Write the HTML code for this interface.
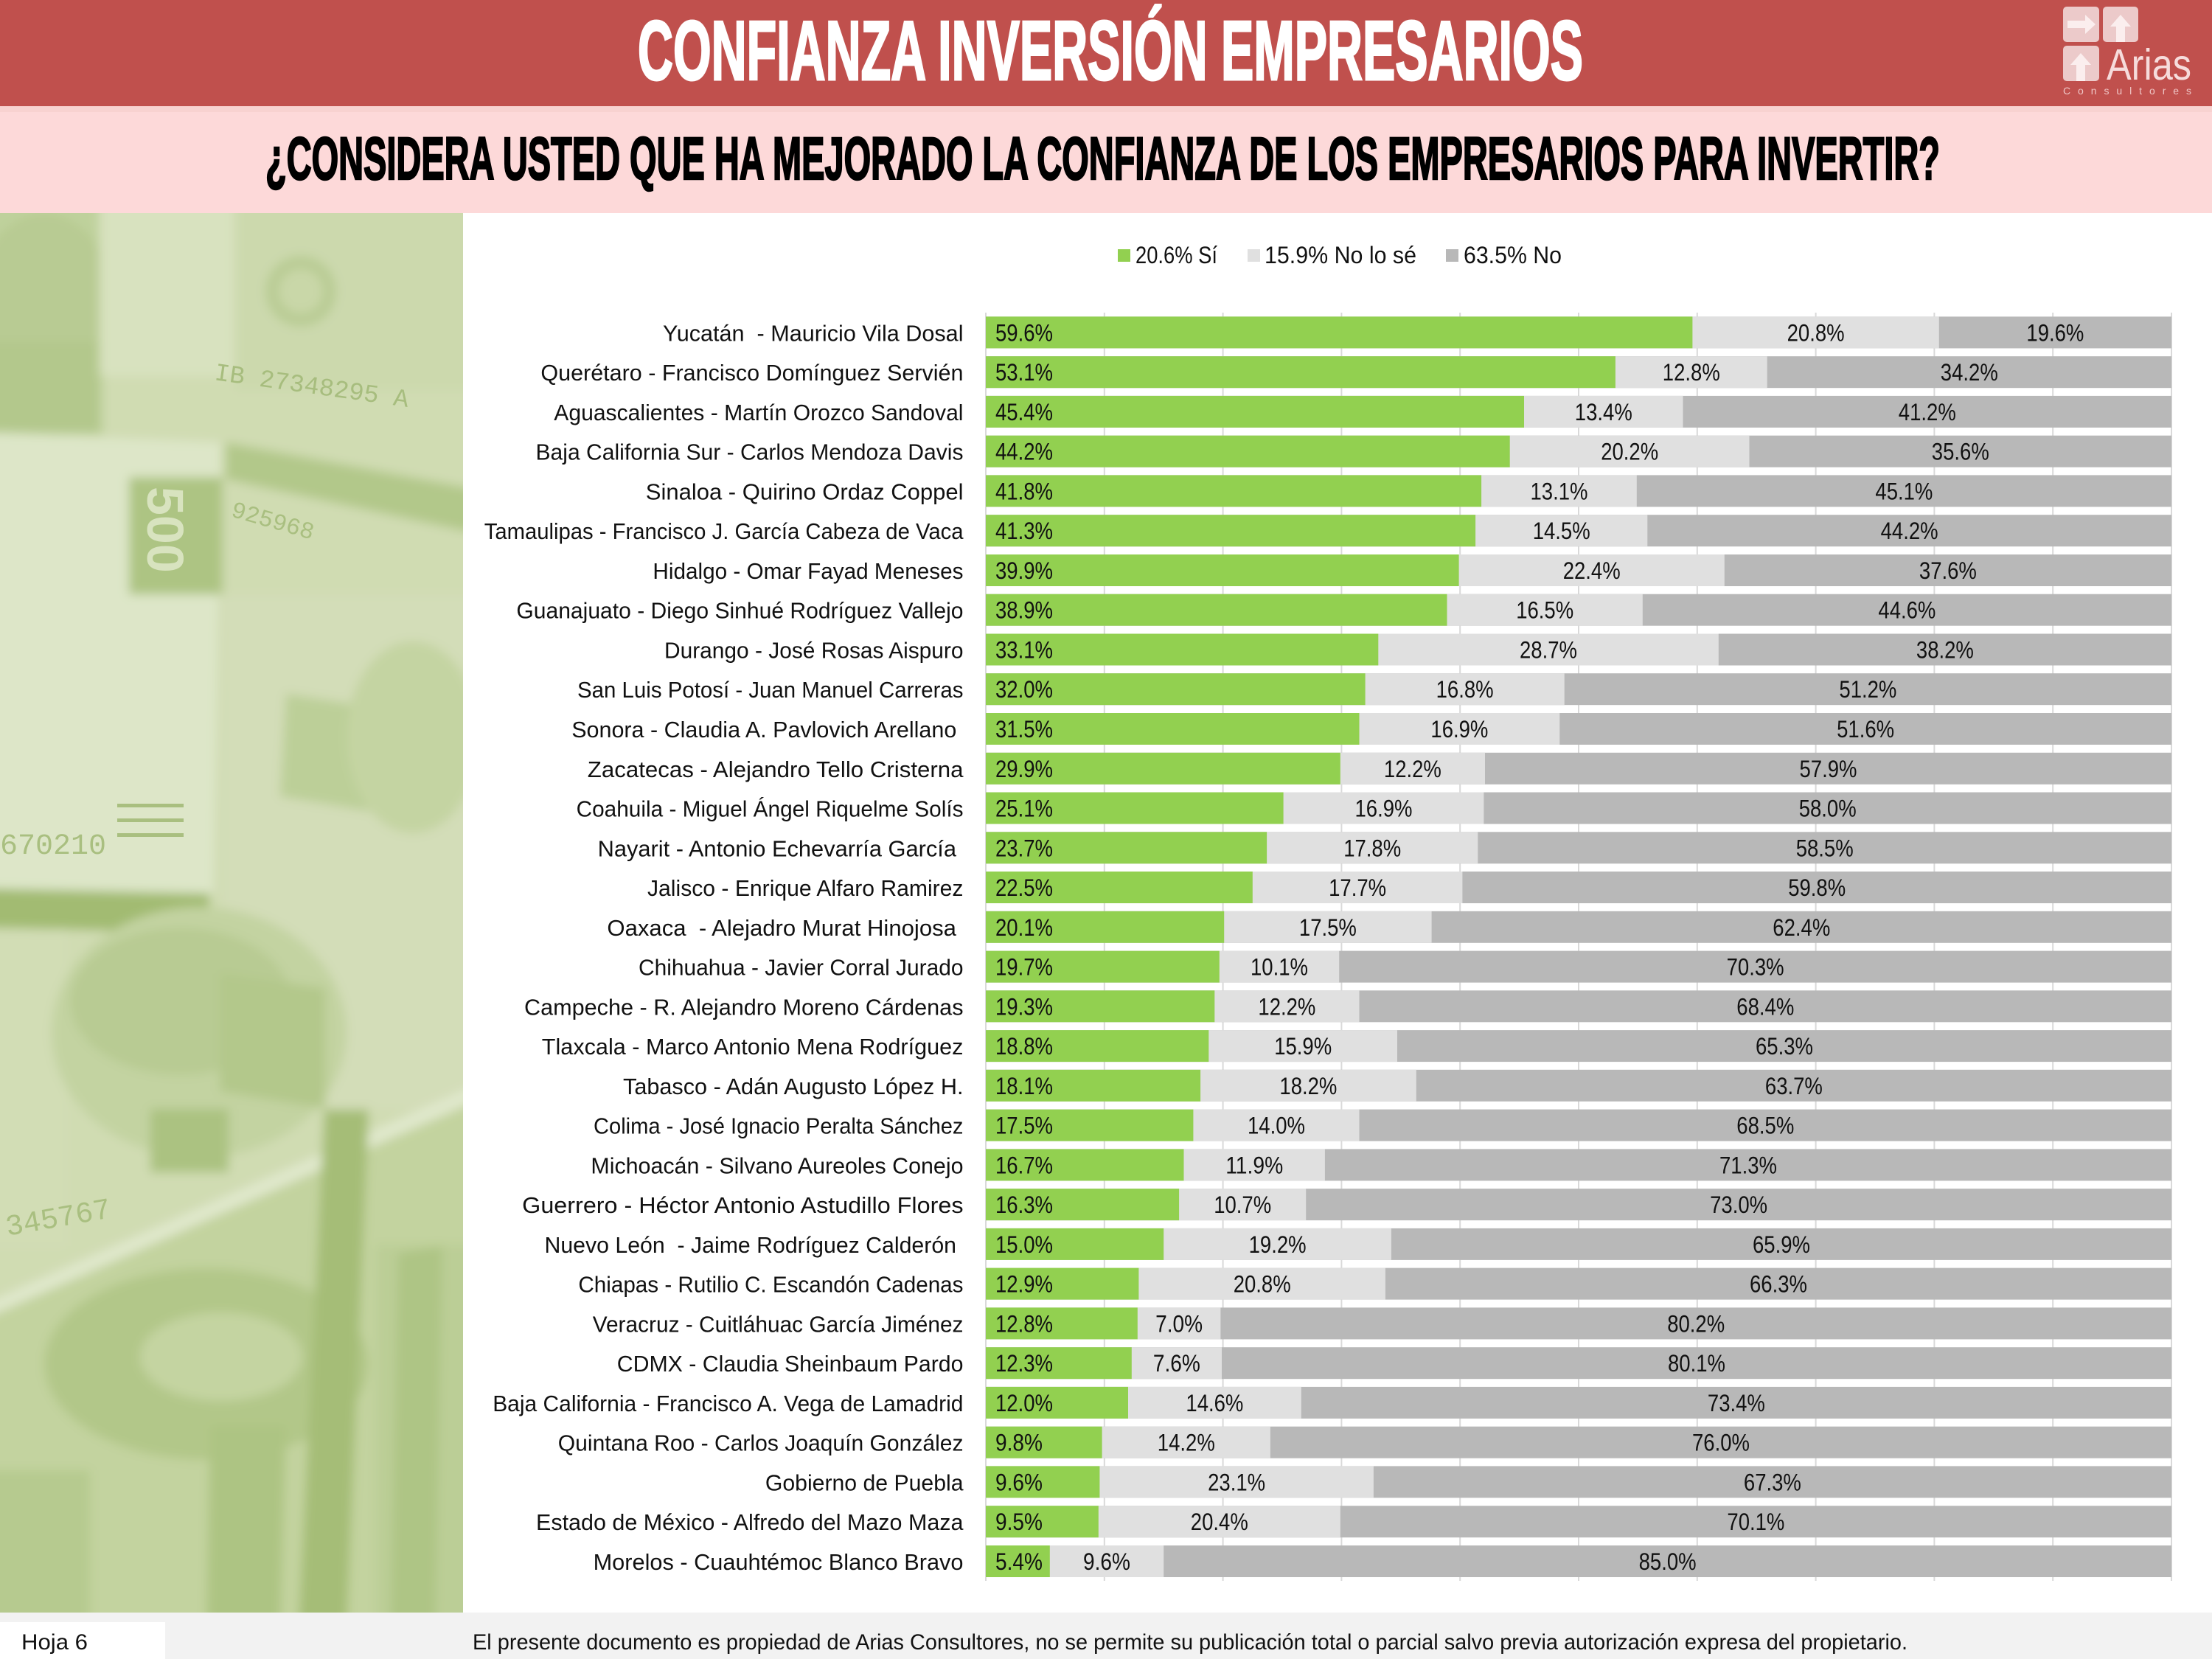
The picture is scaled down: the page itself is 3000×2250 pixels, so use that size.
<!DOCTYPE html>
<html><head><meta charset="utf-8"><style>
html,body{margin:0;padding:0;background:#fff;overflow:hidden}
svg{display:block}
.c text{font-family:"Liberation Sans",sans-serif;font-size:31px;fill:#111}
.v text{font-family:"Liberation Sans",sans-serif;font-size:32px;fill:#111}
.lab{white-space:pre}
</style></head><body>
<svg xmlns="http://www.w3.org/2000/svg" width="3000" height="2250" viewBox="0 0 3000 2250">
<defs><clipPath id="ic"><rect x="0" y="289" width="628" height="1898"/></clipPath>
<filter id="bl" x="-5%" y="-5%" width="110%" height="110%"><feGaussianBlur stdDeviation="7"/></filter></defs>
<!-- header -->
<rect x="0" y="0" width="3000" height="144" fill="#c0504d"/>
<rect x="0" y="144" width="3000" height="145" fill="#fdd9d9"/>
<rect x="0" y="144" width="3000" height="8" fill="#f8d2d0"/>
<text x="865" y="108" font-family="Liberation Sans,sans-serif" font-weight="bold" font-size="114" fill="#fff" stroke="#fff" stroke-width="3" textLength="1282" lengthAdjust="spacingAndGlyphs">CONFIANZA INVERSIÓN EMPRESARIOS</text>
<text x="360" y="243" font-family="Liberation Sans,sans-serif" font-weight="bold" font-size="82" fill="#000" stroke="#000" stroke-width="2.5" textLength="2271" lengthAdjust="spacingAndGlyphs">¿CONSIDERA USTED QUE HA MEJORADO LA CONFIANZA DE LOS EMPRESARIOS PARA INVERTIR?</text>
<!-- logo -->
<rect x="2798" y="9" width="49" height="48" rx="5" fill="#eccaca"/>
<rect x="2852" y="9" width="48" height="48" rx="5" fill="#eccaca"/>
<rect x="2798" y="62" width="49" height="48" rx="5" fill="#eccaca"/>
<polygon points="2804,28 2828,28 2828,20 2842,33 2828,46 2828,38 2804,38" fill="#fbeeee"/>
<polygon points="2862,36 2876,20 2890,36 2882,36 2882,57 2870,57 2870,36" fill="#fbeeee"/>
<polygon points="2808,88 2822,72 2836,88 2828,88 2828,110 2816,110 2816,88" fill="#fbeeee"/>
<text x="2857" y="108" font-family="Liberation Sans,sans-serif" font-size="59" fill="#f6dcdc" textLength="115" lengthAdjust="spacingAndGlyphs">Arias</text>
<text x="2798" y="128" font-family="Liberation Sans,sans-serif" font-size="14" fill="#efc6c6" textLength="174" lengthAdjust="spacing">Consultores</text>
<!-- money image -->
<g clip-path="url(#ic)">
<rect x="0" y="289" width="628" height="1898" fill="#d0dcb2"/>
<g filter="url(#bl)">
<rect x="-20" y="270" width="680" height="1940" fill="#d0dcb2"/>
<rect x="-20" y="270" width="160" height="320" fill="#bfd19c"/>
<ellipse cx="60" cy="400" rx="90" ry="110" fill="#b8cb93"/>
<rect x="-20" y="464" width="155" height="122" fill="#b3c88c"/>
<rect x="135" y="270" width="183" height="240" fill="#d8e2bf"/>
<rect x="318" y="270" width="330" height="260" fill="#ccd9ad"/>
<circle cx="408" cy="395" r="48" fill="#b9cc94"/>
<circle cx="408" cy="395" r="30" fill="#c9d7a8"/>
<polygon points="306,600 648,664 648,724 306,650" fill="#b2c88a"/>
<polygon points="-20,586 300,600 290,1215 -20,1208" fill="#dde6c8"/>
<rect x="175" y="647" width="127" height="159" fill="#adc483"/>
<polygon points="-20,1205 285,1212 280,1265 -20,1258" fill="#a2bb72"/>
<rect x="302" y="806" width="346" height="700" fill="#d3ddb8"/>
<polygon points="388,941 510,960 500,1100 380,1080" fill="#bccf98"/>
<ellipse cx="560" cy="1000" rx="90" ry="130" fill="#c4d4a2"/>
<rect x="-20" y="1260" width="110" height="430" fill="#d2ddb5"/>
<ellipse cx="270" cy="1400" rx="200" ry="170" fill="#c3d3a1"/>
<ellipse cx="245" cy="1358" rx="150" ry="100" fill="#b8cb93"/>
<rect x="204" y="1504" width="106" height="86" fill="#abc281"/>
<polygon points="298,1320 441,1340 441,1504 298,1480" fill="#b3c88b"/>
<polygon points="-20,1768 648,1470 648,1492 -20,1788" fill="#e0e8cc"/>
<polygon points="-20,1788 648,1492 648,2210 -20,2210" fill="#c3d39f"/>
<ellipse cx="280" cy="1850" rx="220" ry="130" fill="#b2c789"/>
<ellipse cx="300" cy="1840" rx="110" ry="60" fill="#c4d4a1"/>
<polygon points="440,1505 500,1505 470,2210 405,2210" fill="#a5bd77"/>
<polygon points="285,1933 388,1933 380,2210 280,2210" fill="#adc483"/>
<rect x="-20" y="1994" width="142" height="216" fill="#b6ca8f"/>
<rect x="510" y="1688" width="138" height="522" fill="#bbce96"/>
<polygon points="540,1700 600,1690 590,2210 530,2210" fill="#aec585"/>
</g>
<text x="290" y="515" transform="rotate(8 290 515)" font-family="Liberation Mono,monospace" font-size="34" fill="#a7bd7e">IB 27348295 A</text>
<text x="312" y="700" transform="rotate(16 312 700)" font-family="Liberation Mono,monospace" font-size="32" fill="#a9bf80">925968</text>
<text x="200" y="660" transform="rotate(90 200 660)" font-family="Liberation Sans,sans-serif" font-weight="bold" font-size="70" fill="#d8e3bf">500</text>
<text x="0" y="1158" font-family="Liberation Mono,monospace" font-size="40" fill="#a9bf80">670210</text>
<rect x="159" y="1090" width="90" height="5" fill="#a9bf80"/>
<rect x="159" y="1110" width="90" height="5" fill="#a9bf80"/>
<rect x="159" y="1130" width="90" height="5" fill="#a9bf80"/>
<text x="10" y="1676" transform="rotate(-10 10 1676)" font-family="Liberation Mono,monospace" font-size="40" fill="#a9bf80">345767</text>
</g>
<!-- legend -->
<g class="v">
<rect x="1516" y="338" width="17" height="17" fill="#92d050"/>
<text x="1540" y="357" textLength="111" lengthAdjust="spacingAndGlyphs">20.6% Sí</text>
<rect x="1692" y="338" width="17" height="17" fill="#e0e0e0"/>
<text x="1715" y="357" textLength="206" lengthAdjust="spacingAndGlyphs">15.9% No lo sé</text>
<rect x="1961" y="338" width="17" height="17" fill="#b8b8b8"/>
<text x="1985" y="357" textLength="133" lengthAdjust="spacingAndGlyphs">63.5% No</text>
</g>
<!-- gridlines -->
<g stroke="#d9d9d9" stroke-width="2">
<line x1="1337" y1="424" x2="1337" y2="2144"/>
<line x1="1497.8" y1="424" x2="1497.8" y2="2144"/>
<line x1="1658.6" y1="424" x2="1658.6" y2="2144"/>
<line x1="1819.4" y1="424" x2="1819.4" y2="2144"/>
<line x1="1980.2" y1="424" x2="1980.2" y2="2144"/>
<line x1="2141" y1="424" x2="2141" y2="2144"/>
<line x1="2301.8" y1="424" x2="2301.8" y2="2144"/>
<line x1="2462.6" y1="424" x2="2462.6" y2="2144"/>
<line x1="2623.4" y1="424" x2="2623.4" y2="2144"/>
<line x1="2784.2" y1="424" x2="2784.2" y2="2144"/>
<line x1="2945" y1="424" x2="2945" y2="2144"/>
</g>
<!-- rows -->
<g class="c">
<g transform="translate(0,429.4)"><rect x="1337" width="1608" height="43" fill="#b8b8b8"/><rect x="1337" width="1292.8" height="43" fill="#e0e0e0"/><rect x="1337" width="958.4" height="43" fill="#92d050"/>
<text class="lab" x="899" y="33" textLength="407.5" lengthAdjust="spacingAndGlyphs">Yucatán  - Mauricio Vila Dosal</text></g>
<g transform="translate(0,483.2)"><rect x="1337" width="1608" height="43" fill="#b8b8b8"/><rect x="1337" width="1059.7" height="43" fill="#e0e0e0"/><rect x="1337" width="853.9" height="43" fill="#92d050"/>
<text x="733.4" y="33" textLength="573.1" lengthAdjust="spacingAndGlyphs">Querétaro - Francisco Domínguez Servién</text></g>
<g transform="translate(0,536.9)"><rect x="1337" width="1608" height="43" fill="#b8b8b8"/><rect x="1337" width="945.5" height="43" fill="#e0e0e0"/><rect x="1337" width="730" height="43" fill="#92d050"/>
<text x="751.3" y="33" textLength="555.2" lengthAdjust="spacingAndGlyphs">Aguascalientes - Martín Orozco Sandoval</text></g>
<g transform="translate(0,590.7)"><rect x="1337" width="1608" height="43" fill="#b8b8b8"/><rect x="1337" width="1035.5" height="43" fill="#e0e0e0"/><rect x="1337" width="710.7" height="43" fill="#92d050"/>
<text x="726.5" y="33" textLength="580" lengthAdjust="spacingAndGlyphs">Baja California Sur - Carlos Mendoza Davis</text></g>
<g transform="translate(0,644.4)"><rect x="1337" width="1608" height="43" fill="#b8b8b8"/><rect x="1337" width="882.8" height="43" fill="#e0e0e0"/><rect x="1337" width="672.1" height="43" fill="#92d050"/>
<text x="875.8" y="33" textLength="430.7" lengthAdjust="spacingAndGlyphs">Sinaloa - Quirino Ordaz Coppel</text></g>
<g transform="translate(0,698.2)"><rect x="1337" width="1608" height="43" fill="#b8b8b8"/><rect x="1337" width="897.3" height="43" fill="#e0e0e0"/><rect x="1337" width="664.1" height="43" fill="#92d050"/>
<text x="656.7" y="33" textLength="649.8" lengthAdjust="spacingAndGlyphs">Tamaulipas - Francisco J. García Cabeza de Vaca</text></g>
<g transform="translate(0,752)"><rect x="1337" width="1608" height="43" fill="#b8b8b8"/><rect x="1337" width="1001.8" height="43" fill="#e0e0e0"/><rect x="1337" width="641.6" height="43" fill="#92d050"/>
<text x="885.4" y="33" textLength="421.1" lengthAdjust="spacingAndGlyphs">Hidalgo - Omar Fayad Meneses</text></g>
<g transform="translate(0,805.7)"><rect x="1337" width="1608" height="43" fill="#b8b8b8"/><rect x="1337" width="890.8" height="43" fill="#e0e0e0"/><rect x="1337" width="625.5" height="43" fill="#92d050"/>
<text x="700.4" y="33" textLength="606.1" lengthAdjust="spacingAndGlyphs">Guanajuato - Diego Sinhué Rodríguez Vallejo</text></g>
<g transform="translate(0,859.5)"><rect x="1337" width="1608" height="43" fill="#b8b8b8"/><rect x="1337" width="993.8" height="43" fill="#e0e0e0"/><rect x="1337" width="532.3" height="43" fill="#92d050"/>
<text x="901" y="33" textLength="405.5" lengthAdjust="spacingAndGlyphs">Durango - José Rosas Aispuro</text></g>
<g transform="translate(0,913.2)"><rect x="1337" width="1608" height="43" fill="#b8b8b8"/><rect x="1337" width="784.7" height="43" fill="#e0e0e0"/><rect x="1337" width="514.6" height="43" fill="#92d050"/>
<text x="783" y="33" textLength="523.5" lengthAdjust="spacingAndGlyphs">San Luis Potosí - Juan Manuel Carreras</text></g>
<g transform="translate(0,967)"><rect x="1337" width="1608" height="43" fill="#b8b8b8"/><rect x="1337" width="778.3" height="43" fill="#e0e0e0"/><rect x="1337" width="506.5" height="43" fill="#92d050"/>
<text x="775.2" y="33" textLength="522.1" lengthAdjust="spacingAndGlyphs">Sonora - Claudia A. Pavlovich Arellano</text></g>
<g transform="translate(0,1020.8)"><rect x="1337" width="1608" height="43" fill="#b8b8b8"/><rect x="1337" width="677" height="43" fill="#e0e0e0"/><rect x="1337" width="480.8" height="43" fill="#92d050"/>
<text x="796.8" y="33" textLength="509.7" lengthAdjust="spacingAndGlyphs">Zacatecas - Alejandro Tello Cristerna</text></g>
<g transform="translate(0,1074.5)"><rect x="1337" width="1608" height="43" fill="#b8b8b8"/><rect x="1337" width="675.4" height="43" fill="#e0e0e0"/><rect x="1337" width="403.6" height="43" fill="#92d050"/>
<text x="781.6" y="33" textLength="524.9" lengthAdjust="spacingAndGlyphs">Coahuila - Miguel Ángel Riquelme Solís</text></g>
<g transform="translate(0,1128.3)"><rect x="1337" width="1608" height="43" fill="#b8b8b8"/><rect x="1337" width="667.3" height="43" fill="#e0e0e0"/><rect x="1337" width="381.1" height="43" fill="#92d050"/>
<text x="810.6" y="33" textLength="486.4" lengthAdjust="spacingAndGlyphs">Nayarit - Antonio Echevarría García</text></g>
<g transform="translate(0,1182)"><rect x="1337" width="1608" height="43" fill="#b8b8b8"/><rect x="1337" width="646.4" height="43" fill="#e0e0e0"/><rect x="1337" width="361.8" height="43" fill="#92d050"/>
<text x="878" y="33" textLength="428.5" lengthAdjust="spacingAndGlyphs">Jalisco - Enrique Alfaro Ramirez</text></g>
<g transform="translate(0,1235.8)"><rect x="1337" width="1608" height="43" fill="#b8b8b8"/><rect x="1337" width="604.6" height="43" fill="#e0e0e0"/><rect x="1337" width="323.2" height="43" fill="#92d050"/>
<text class="lab" x="823.4" y="33" textLength="473.6" lengthAdjust="spacingAndGlyphs">Oaxaca  - Alejadro Murat Hinojosa</text></g>
<g transform="translate(0,1289.6)"><rect x="1337" width="1608" height="43" fill="#b8b8b8"/><rect x="1337" width="479.2" height="43" fill="#e0e0e0"/><rect x="1337" width="316.8" height="43" fill="#92d050"/>
<text x="866" y="33" textLength="440.5" lengthAdjust="spacingAndGlyphs">Chihuahua - Javier Corral Jurado</text></g>
<g transform="translate(0,1343.3)"><rect x="1337" width="1608" height="43" fill="#b8b8b8"/><rect x="1337" width="506.5" height="43" fill="#e0e0e0"/><rect x="1337" width="310.3" height="43" fill="#92d050"/>
<text x="711" y="33" textLength="595.5" lengthAdjust="spacingAndGlyphs">Campeche - R. Alejandro Moreno Cárdenas</text></g>
<g transform="translate(0,1397.1)"><rect x="1337" width="1608" height="43" fill="#b8b8b8"/><rect x="1337" width="558" height="43" fill="#e0e0e0"/><rect x="1337" width="302.3" height="43" fill="#92d050"/>
<text x="734.8" y="33" textLength="571.7" lengthAdjust="spacingAndGlyphs">Tlaxcala - Marco Antonio Mena Rodríguez</text></g>
<g transform="translate(0,1450.8)"><rect x="1337" width="1608" height="43" fill="#b8b8b8"/><rect x="1337" width="583.8" height="43" fill="#e0e0e0"/><rect x="1337" width="291.1" height="43" fill="#92d050"/>
<text x="845" y="33" textLength="461.5" lengthAdjust="spacingAndGlyphs">Tabasco - Adán Augusto López H.</text></g>
<g transform="translate(0,1504.6)"><rect x="1337" width="1608" height="43" fill="#b8b8b8"/><rect x="1337" width="506.5" height="43" fill="#e0e0e0"/><rect x="1337" width="281.4" height="43" fill="#92d050"/>
<text x="805" y="33" textLength="501.5" lengthAdjust="spacingAndGlyphs">Colima - José Ignacio Peralta Sánchez</text></g>
<g transform="translate(0,1558.4)"><rect x="1337" width="1608" height="43" fill="#b8b8b8"/><rect x="1337" width="459.9" height="43" fill="#e0e0e0"/><rect x="1337" width="268.5" height="43" fill="#92d050"/>
<text x="801.4" y="33" textLength="505.1" lengthAdjust="spacingAndGlyphs">Michoacán - Silvano Aureoles Conejo</text></g>
<g transform="translate(0,1612.1)"><rect x="1337" width="1608" height="43" fill="#b8b8b8"/><rect x="1337" width="434.2" height="43" fill="#e0e0e0"/><rect x="1337" width="262.1" height="43" fill="#92d050"/>
<text x="708.2" y="33" textLength="598.3" lengthAdjust="spacingAndGlyphs">Guerrero - Héctor Antonio Astudillo Flores</text></g>
<g transform="translate(0,1665.9)"><rect x="1337" width="1608" height="43" fill="#b8b8b8"/><rect x="1337" width="549.9" height="43" fill="#e0e0e0"/><rect x="1337" width="241.2" height="43" fill="#92d050"/>
<text class="lab" x="738.5" y="33" textLength="558.5" lengthAdjust="spacingAndGlyphs">Nuevo León  - Jaime Rodríguez Calderón</text></g>
<g transform="translate(0,1719.6)"><rect x="1337" width="1608" height="43" fill="#b8b8b8"/><rect x="1337" width="541.9" height="43" fill="#e0e0e0"/><rect x="1337" width="207.4" height="43" fill="#92d050"/>
<text x="784.4" y="33" textLength="522.1" lengthAdjust="spacingAndGlyphs">Chiapas - Rutilio C. Escandón Cadenas</text></g>
<g transform="translate(0,1773.4)"><rect x="1337" width="1608" height="43" fill="#b8b8b8"/><rect x="1337" width="318.4" height="43" fill="#e0e0e0"/><rect x="1337" width="205.8" height="43" fill="#92d050"/>
<text x="803.7" y="33" textLength="502.8" lengthAdjust="spacingAndGlyphs">Veracruz - Cuitláhuac García Jiménez</text></g>
<g transform="translate(0,1827.2)"><rect x="1337" width="1608" height="43" fill="#b8b8b8"/><rect x="1337" width="320" height="43" fill="#e0e0e0"/><rect x="1337" width="197.8" height="43" fill="#92d050"/>
<text x="836.7" y="33" textLength="469.8" lengthAdjust="spacingAndGlyphs">CDMX - Claudia Sheinbaum Pardo</text></g>
<g transform="translate(0,1880.9)"><rect x="1337" width="1608" height="43" fill="#b8b8b8"/><rect x="1337" width="427.8" height="43" fill="#e0e0e0"/><rect x="1337" width="193" height="43" fill="#92d050"/>
<text x="668.2" y="33" textLength="638.3" lengthAdjust="spacingAndGlyphs">Baja California - Francisco A. Vega de Lamadrid</text></g>
<g transform="translate(0,1934.7)"><rect x="1337" width="1608" height="43" fill="#b8b8b8"/><rect x="1337" width="385.9" height="43" fill="#e0e0e0"/><rect x="1337" width="157.6" height="43" fill="#92d050"/>
<text x="756.8" y="33" textLength="549.7" lengthAdjust="spacingAndGlyphs">Quintana Roo - Carlos Joaquín González</text></g>
<g transform="translate(0,1988.4)"><rect x="1337" width="1608" height="43" fill="#b8b8b8"/><rect x="1337" width="525.9" height="43" fill="#e0e0e0"/><rect x="1337" width="154.4" height="43" fill="#92d050"/>
<text x="1037.9" y="33" textLength="268.6" lengthAdjust="spacingAndGlyphs">Gobierno de Puebla</text></g>
<g transform="translate(0,2042.2)"><rect x="1337" width="1608" height="43" fill="#b8b8b8"/><rect x="1337" width="480.8" height="43" fill="#e0e0e0"/><rect x="1337" width="152.8" height="43" fill="#92d050"/>
<text x="727" y="33" textLength="579.5" lengthAdjust="spacingAndGlyphs">Estado de México - Alfredo del Mazo Maza</text></g>
<g transform="translate(0,2096)"><rect x="1337" width="1608" height="43" fill="#b8b8b8"/><rect x="1337" width="241.2" height="43" fill="#e0e0e0"/><rect x="1337" width="86.8" height="43" fill="#92d050"/>
<text x="804.6" y="33" textLength="501.9" lengthAdjust="spacingAndGlyphs">Morelos - Cuauhtémoc Blanco Bravo</text></g>
</g>
<!-- value labels -->
<g class="v">
<g transform="translate(0,429.4)"><text x="1350" y="33" textLength="78" lengthAdjust="spacingAndGlyphs">59.6%</text><text x="2423.6" y="33" textLength="78" lengthAdjust="spacingAndGlyphs">20.8%</text><text x="2748.4" y="33" textLength="78" lengthAdjust="spacingAndGlyphs">19.6%</text></g>
<g transform="translate(0,483.2)"><text x="1350" y="33" textLength="78" lengthAdjust="spacingAndGlyphs">53.1%</text><text x="2254.8" y="33" textLength="78" lengthAdjust="spacingAndGlyphs">12.8%</text><text x="2631.8" y="33" textLength="78" lengthAdjust="spacingAndGlyphs">34.2%</text></g>
<g transform="translate(0,536.9)"><text x="1350" y="33" textLength="78" lengthAdjust="spacingAndGlyphs">45.4%</text><text x="2135.8" y="33" textLength="78" lengthAdjust="spacingAndGlyphs">13.4%</text><text x="2574.8" y="33" textLength="78" lengthAdjust="spacingAndGlyphs">41.2%</text></g>
<g transform="translate(0,590.7)"><text x="1350" y="33" textLength="78" lengthAdjust="spacingAndGlyphs">44.2%</text><text x="2171.2" y="33" textLength="78" lengthAdjust="spacingAndGlyphs">20.2%</text><text x="2619.8" y="33" textLength="78" lengthAdjust="spacingAndGlyphs">35.6%</text></g>
<g transform="translate(0,644.4)"><text x="1350" y="33" textLength="78" lengthAdjust="spacingAndGlyphs">41.8%</text><text x="2075.5" y="33" textLength="78" lengthAdjust="spacingAndGlyphs">13.1%</text><text x="2543.4" y="33" textLength="78" lengthAdjust="spacingAndGlyphs">45.1%</text></g>
<g transform="translate(0,698.2)"><text x="1350" y="33" textLength="78" lengthAdjust="spacingAndGlyphs">41.3%</text><text x="2078.7" y="33" textLength="78" lengthAdjust="spacingAndGlyphs">14.5%</text><text x="2550.6" y="33" textLength="78" lengthAdjust="spacingAndGlyphs">44.2%</text></g>
<g transform="translate(0,752)"><text x="1350" y="33" textLength="78" lengthAdjust="spacingAndGlyphs">39.9%</text><text x="2119.7" y="33" textLength="78" lengthAdjust="spacingAndGlyphs">22.4%</text><text x="2602.9" y="33" textLength="78" lengthAdjust="spacingAndGlyphs">37.6%</text></g>
<g transform="translate(0,805.7)"><text x="1350" y="33" textLength="78" lengthAdjust="spacingAndGlyphs">38.9%</text><text x="2056.2" y="33" textLength="78" lengthAdjust="spacingAndGlyphs">16.5%</text><text x="2547.4" y="33" textLength="78" lengthAdjust="spacingAndGlyphs">44.6%</text></g>
<g transform="translate(0,859.5)"><text x="1350" y="33" textLength="78" lengthAdjust="spacingAndGlyphs">33.1%</text><text x="2061" y="33" textLength="78" lengthAdjust="spacingAndGlyphs">28.7%</text><text x="2598.9" y="33" textLength="78" lengthAdjust="spacingAndGlyphs">38.2%</text></g>
<g transform="translate(0,913.2)"><text x="1350" y="33" textLength="78" lengthAdjust="spacingAndGlyphs">32.0%</text><text x="1947.6" y="33" textLength="78" lengthAdjust="spacingAndGlyphs">16.8%</text><text x="2494.4" y="33" textLength="78" lengthAdjust="spacingAndGlyphs">51.2%</text></g>
<g transform="translate(0,967)"><text x="1350" y="33" textLength="78" lengthAdjust="spacingAndGlyphs">31.5%</text><text x="1940.4" y="33" textLength="78" lengthAdjust="spacingAndGlyphs">16.9%</text><text x="2491.1" y="33" textLength="78" lengthAdjust="spacingAndGlyphs">51.6%</text></g>
<g transform="translate(0,1020.8)"><text x="1350" y="33" textLength="78" lengthAdjust="spacingAndGlyphs">29.9%</text><text x="1876.9" y="33" textLength="78" lengthAdjust="spacingAndGlyphs">12.2%</text><text x="2440.5" y="33" textLength="78" lengthAdjust="spacingAndGlyphs">57.9%</text></g>
<g transform="translate(0,1074.5)"><text x="1350" y="33" textLength="78" lengthAdjust="spacingAndGlyphs">25.1%</text><text x="1837.5" y="33" textLength="78" lengthAdjust="spacingAndGlyphs">16.9%</text><text x="2439.7" y="33" textLength="78" lengthAdjust="spacingAndGlyphs">58.0%</text></g>
<g transform="translate(0,1128.3)"><text x="1350" y="33" textLength="78" lengthAdjust="spacingAndGlyphs">23.7%</text><text x="1822.2" y="33" textLength="78" lengthAdjust="spacingAndGlyphs">17.8%</text><text x="2435.7" y="33" textLength="78" lengthAdjust="spacingAndGlyphs">58.5%</text></g>
<g transform="translate(0,1182)"><text x="1350" y="33" textLength="78" lengthAdjust="spacingAndGlyphs">22.5%</text><text x="1802.1" y="33" textLength="78" lengthAdjust="spacingAndGlyphs">17.7%</text><text x="2425.2" y="33" textLength="78" lengthAdjust="spacingAndGlyphs">59.8%</text></g>
<g transform="translate(0,1235.8)"><text x="1350" y="33" textLength="78" lengthAdjust="spacingAndGlyphs">20.1%</text><text x="1761.9" y="33" textLength="78" lengthAdjust="spacingAndGlyphs">17.5%</text><text x="2404.3" y="33" textLength="78" lengthAdjust="spacingAndGlyphs">62.4%</text></g>
<g transform="translate(0,1289.6)"><text x="1350" y="33" textLength="78" lengthAdjust="spacingAndGlyphs">19.7%</text><text x="1696" y="33" textLength="78" lengthAdjust="spacingAndGlyphs">10.1%</text><text x="2341.6" y="33" textLength="78" lengthAdjust="spacingAndGlyphs">70.3%</text></g>
<g transform="translate(0,1343.3)"><text x="1350" y="33" textLength="78" lengthAdjust="spacingAndGlyphs">19.3%</text><text x="1706.4" y="33" textLength="78" lengthAdjust="spacingAndGlyphs">12.2%</text><text x="2355.3" y="33" textLength="78" lengthAdjust="spacingAndGlyphs">68.4%</text></g>
<g transform="translate(0,1397.1)"><text x="1350" y="33" textLength="78" lengthAdjust="spacingAndGlyphs">18.8%</text><text x="1728.2" y="33" textLength="78" lengthAdjust="spacingAndGlyphs">15.9%</text><text x="2381" y="33" textLength="78" lengthAdjust="spacingAndGlyphs">65.3%</text></g>
<g transform="translate(0,1450.8)"><text x="1350" y="33" textLength="78" lengthAdjust="spacingAndGlyphs">18.1%</text><text x="1735.4" y="33" textLength="78" lengthAdjust="spacingAndGlyphs">18.2%</text><text x="2393.9" y="33" textLength="78" lengthAdjust="spacingAndGlyphs">63.7%</text></g>
<g transform="translate(0,1504.6)"><text x="1350" y="33" textLength="78" lengthAdjust="spacingAndGlyphs">17.5%</text><text x="1692" y="33" textLength="78" lengthAdjust="spacingAndGlyphs">14.0%</text><text x="2355.3" y="33" textLength="78" lengthAdjust="spacingAndGlyphs">68.5%</text></g>
<g transform="translate(0,1558.4)"><text x="1350" y="33" textLength="78" lengthAdjust="spacingAndGlyphs">16.7%</text><text x="1662.2" y="33" textLength="78" lengthAdjust="spacingAndGlyphs">11.9%</text><text x="2332" y="33" textLength="78" lengthAdjust="spacingAndGlyphs">71.3%</text></g>
<g transform="translate(0,1612.1)"><text x="1350" y="33" textLength="78" lengthAdjust="spacingAndGlyphs">16.3%</text><text x="1646.2" y="33" textLength="78" lengthAdjust="spacingAndGlyphs">10.7%</text><text x="2319.1" y="33" textLength="78" lengthAdjust="spacingAndGlyphs">73.0%</text></g>
<g transform="translate(0,1665.9)"><text x="1350" y="33" textLength="78" lengthAdjust="spacingAndGlyphs">15.0%</text><text x="1693.6" y="33" textLength="78" lengthAdjust="spacingAndGlyphs">19.2%</text><text x="2377" y="33" textLength="78" lengthAdjust="spacingAndGlyphs">65.9%</text></g>
<g transform="translate(0,1719.6)"><text x="1350" y="33" textLength="78" lengthAdjust="spacingAndGlyphs">12.9%</text><text x="1672.7" y="33" textLength="78" lengthAdjust="spacingAndGlyphs">20.8%</text><text x="2373" y="33" textLength="78" lengthAdjust="spacingAndGlyphs">66.3%</text></g>
<g transform="translate(0,1773.4)"><text x="1350" y="33" textLength="78" lengthAdjust="spacingAndGlyphs">12.8%</text><text x="1567.1" y="33" textLength="64" lengthAdjust="spacingAndGlyphs">7.0%</text><text x="2261.2" y="33" textLength="78" lengthAdjust="spacingAndGlyphs">80.2%</text></g>
<g transform="translate(0,1827.2)"><text x="1350" y="33" textLength="78" lengthAdjust="spacingAndGlyphs">12.3%</text><text x="1563.9" y="33" textLength="64" lengthAdjust="spacingAndGlyphs">7.6%</text><text x="2262" y="33" textLength="78" lengthAdjust="spacingAndGlyphs">80.1%</text></g>
<g transform="translate(0,1880.9)"><text x="1350" y="33" textLength="78" lengthAdjust="spacingAndGlyphs">12.0%</text><text x="1608.4" y="33" textLength="78" lengthAdjust="spacingAndGlyphs">14.6%</text><text x="2315.9" y="33" textLength="78" lengthAdjust="spacingAndGlyphs">73.4%</text></g>
<g transform="translate(0,1934.7)"><text x="1350" y="33" textLength="64" lengthAdjust="spacingAndGlyphs">9.8%</text><text x="1569.8" y="33" textLength="78" lengthAdjust="spacingAndGlyphs">14.2%</text><text x="2295" y="33" textLength="78" lengthAdjust="spacingAndGlyphs">76.0%</text></g>
<g transform="translate(0,1988.4)"><text x="1350" y="33" textLength="64" lengthAdjust="spacingAndGlyphs">9.6%</text><text x="1638.1" y="33" textLength="78" lengthAdjust="spacingAndGlyphs">23.1%</text><text x="2364.9" y="33" textLength="78" lengthAdjust="spacingAndGlyphs">67.3%</text></g>
<g transform="translate(0,2042.2)"><text x="1350" y="33" textLength="64" lengthAdjust="spacingAndGlyphs">9.5%</text><text x="1614.8" y="33" textLength="78" lengthAdjust="spacingAndGlyphs">20.4%</text><text x="2342.4" y="33" textLength="78" lengthAdjust="spacingAndGlyphs">70.1%</text></g>
<g transform="translate(0,2096)"><text x="1350" y="33" textLength="64" lengthAdjust="spacingAndGlyphs">5.4%</text><text x="1469" y="33" textLength="64" lengthAdjust="spacingAndGlyphs">9.6%</text><text x="2222.6" y="33" textLength="78" lengthAdjust="spacingAndGlyphs">85.0%</text></g>
</g>
<!-- footer -->
<rect x="0" y="2187" width="3000" height="63" fill="#f2f2f2"/>
<rect x="0" y="2200" width="224" height="50" fill="#ffffff"/>
<text x="29" y="2237" font-family="Liberation Sans,sans-serif" font-size="30" fill="#111" textLength="90" lengthAdjust="spacingAndGlyphs">Hoja 6</text>
<text x="641" y="2237" font-family="Liberation Sans,sans-serif" font-size="30" fill="#111" textLength="1946" lengthAdjust="spacingAndGlyphs">El presente documento es propiedad de Arias Consultores, no se permite su publicación total o parcial salvo previa autorización expresa del propietario.</text>
</svg>
</body></html>
